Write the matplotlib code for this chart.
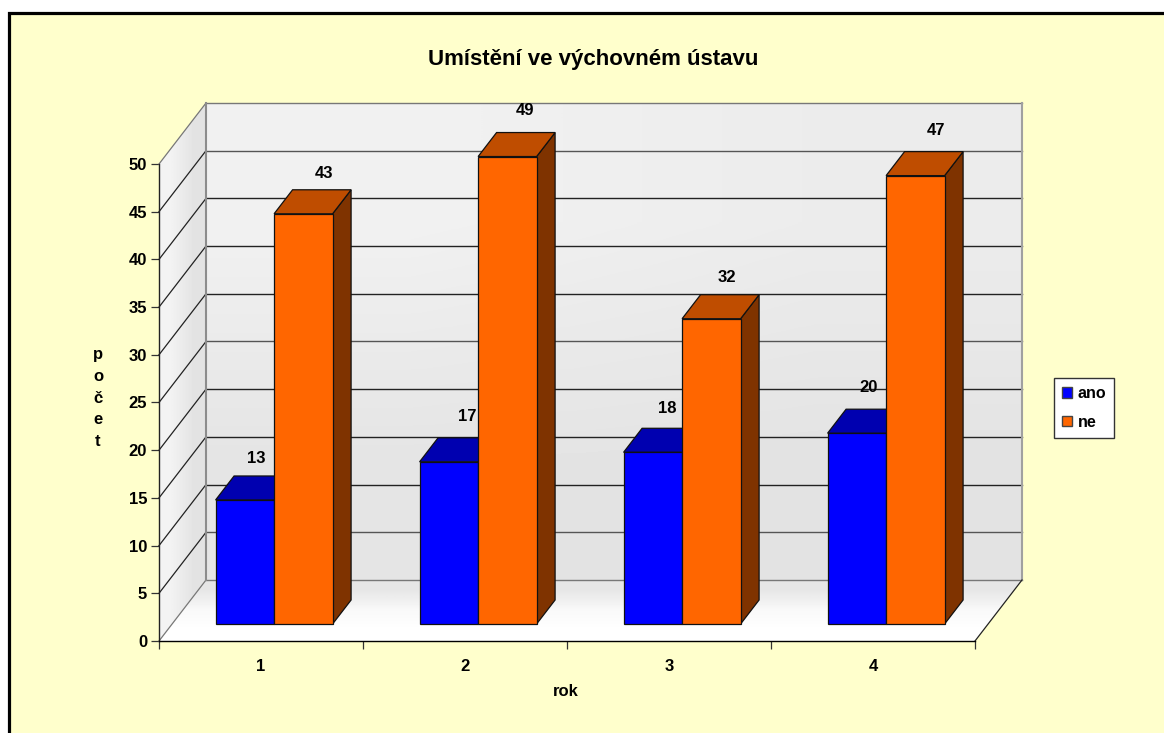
import numpy as np
import matplotlib
matplotlib.use("Agg")
import matplotlib.pyplot as plt
from matplotlib.patches import Patch, Polygon, Rectangle

# data
years = ["1", "2", "3", "4"]
ano = [13, 17, 18, 20]
ne = [43, 49, 32, 47]
y_ticks = list(range(0, 55, 5))

# fake 3d: one unit of depth in data units of the axes
W, H = 1164, 733
px_x = 204.0
px_y = 9.54
depth_x = 47 / px_x
depth_y = 61 / px_y
bar_w = 58.5 / px_x
d_front = 17 / 61
d_back = 41 / 61

plt.rcParams["font.family"] = ["Liberation Sans", "DejaVu Sans"]
plt.rcParams["font.weight"] = "bold"

fig = plt.figure(figsize=(W / 100, H / 100), dpi=100, facecolor="white")

# cream background with the border only showing left and top
fig.patches.append(
    Rectangle(
        (8.5 / W, -0.05),
        1.1,
        1.05 - 13.5 / H,
        transform=fig.transFigure,
        facecolor="#FFFFCC",
        edgecolor="black",
        linewidth=2.3,
        clip_on=False,
        zorder=-5,
    )
)

ax = fig.add_axes([159 / W, 1 - 641 / H, 816 / W, 477 / H])
ax.patch.set_visible(False)


def proj(x, v, d):
    return (x + d * depth_x, v + d * depth_y)


def gradient_poly(points, values, extent, z):
    im = ax.imshow(
        values,
        extent=extent,
        cmap="gray",
        vmin=0,
        vmax=1,
        aspect="auto",
        origin="lower",
        interpolation="bilinear",
        zorder=z,
    )
    # walls stick out of the axes box, so clip to the polygon only
    im.set_clip_box(fig.bbox)
    im.set_clip_path(Polygon(points, closed=True, transform=ax.transData))


# back wall
x0, x1 = 0.5, 4.5
gradient_poly(
    [proj(x0, 0, 1), proj(x1, 0, 1), proj(x1, 50, 1), proj(x0, 50, 1)],
    np.array([[0.895, 0.89], [0.945, 0.925]]),
    (x0 + depth_x, x1 + depth_x, depth_y, 50 + depth_y),
    1,
)
# side wall
gradient_poly(
    [proj(x0, 0, 0), proj(x0, 0, 1), proj(x0, 50, 1), proj(x0, 50, 0)],
    np.array([[0.95, 0.89], [0.95, 0.89]]),
    (x0, x0 + depth_x, 0, 50 + depth_y),
    1,
)
# floor
gradient_poly(
    [proj(x0, 0, 0), proj(x1, 0, 0), proj(x1, 0, 1), proj(x0 + 0.0, 0, 1), ],
    np.array([[1.0, 1.0], [0.975, 0.975], [0.90, 0.90]]),
    (x0, x1 + depth_x, 0, depth_y),
    1,
)
ax.set_xlim(0.5, 4.5)
ax.set_ylim(0, 50)

# grid on the walls
for v in y_ticks:
    back_col = "#777777" if v in (0, 50) else "#222222"
    if v in (5, 45, 25):
        back_col = "#555555"
    side_col = "#777777" if v in (0, 50) else "#222222"
    xs, ys = zip(proj(x0, v, 0), proj(x0, v, 1))
    ax.plot(xs, ys, color=side_col, lw=0.9, zorder=2, clip_on=False)
    xs, ys = zip(proj(x0, v, 1), proj(x1, v, 1))
    ax.plot(xs, ys, color=back_col, lw=1.0, zorder=2, clip_on=False)
xs, ys = zip(proj(x0, 0, 1), proj(x0, 50, 1))
ax.plot(xs, ys, color="#8c8c8c", lw=1.5, zorder=2, clip_on=False)
xs, ys = zip(proj(x1, 0, 1), proj(x1, 50, 1))
ax.plot(xs, ys, color="#a0a0a0", lw=1.5, zorder=2, clip_on=False)
xs, ys = zip(proj(x1, 0, 0), proj(x1, 0, 1))
ax.plot(xs, ys, color="#222222", lw=0.9, zorder=2, clip_on=False)


def bar_3d(left, val, front, top, side, z):
    right = left + bar_w
    faces = [
        ([proj(right, 0, d_front), proj(right, 0, d_back), proj(right, val, d_back), proj(right, val, d_front)], side),
        ([proj(left, val, d_front), proj(right, val, d_front), proj(right, val, d_back), proj(left, val, d_back)], top),
        ([proj(left, 0, d_front), proj(right, 0, d_front), proj(right, val, d_front), proj(left, val, d_front)], front),
    ]
    for pts, col in faces:
        ax.add_patch(Polygon(pts, closed=True, facecolor=col, edgecolor="#111111", linewidth=0.9, zorder=z, clip_on=False))


# small nudges so the value labels sit where they do in the original
ano_nudge = [(11, 41), (18, 45), (14, 44), (12, 46)]
ne_nudge = [(21, 40), (18, 46), (16, 41), (21, 45)]

for i in range(len(years)):
    c = i + 1
    bar_3d(c - bar_w, ano[i], "#0000FF", "#0000B0", "#00007F", 3 + i)
    bar_3d(c, ne[i], "#FF6600", "#BF4D00", "#7F3300", 3 + i)

    fx, fy = proj(c - bar_w / 2, ano[i], d_front)
    ax.annotate(str(ano[i]), (fx, fy), xytext=ano_nudge[i], textcoords="offset pixels",
                ha="center", va="center", fontsize=12, fontweight="bold", zorder=10, annotation_clip=False)
    fx, fy = proj(c + bar_w / 2, ne[i], d_front)
    ax.annotate(str(ne[i]), (fx, fy), xytext=ne_nudge[i], textcoords="offset pixels",
                ha="center", va="center", fontsize=12, fontweight="bold", zorder=10, annotation_clip=False)

# axes
for s in ("top", "right"):
    ax.spines[s].set_visible(False)
ax.spines["left"].set_color("#222222")
ax.spines["bottom"].set_color("black")
ax.spines["left"].set_linewidth(1.0)
ax.spines["bottom"].set_linewidth(1.0)
ax.spines["left"].set_zorder(9)
ax.spines["bottom"].set_zorder(9)

ax.set_yticks(y_ticks)
ax.set_yticklabels([str(v) for v in y_ticks])
ax.tick_params(axis="y", length=5.5, width=0.9, color="#333333", pad=3, labelsize=12)
ax.set_xticks(np.arange(0.5, 5.0, 1.0))
ax.set_xticklabels([])
ax.set_xticks(np.arange(1, 5), minor=True)
ax.set_xticklabels(years, minor=True)
ax.tick_params(axis="x", which="major", length=6, width=0.9, color="#333333")
ax.tick_params(axis="x", which="minor", length=0, pad=13, labelsize=12)

fig.text(593 / W, 1 - 59.5 / H, "Umístění ve výchovném ústavu", ha="center", va="center", fontsize=16, fontweight="bold")
fig.text(566 / W, 1 - 691 / H, "rok", ha="center", va="center", fontsize=12, fontweight="bold")
fig.text(98 / W, 1 - 398 / H, "p\no\nč\ne\nt", ha="center", va="center", fontsize=12, fontweight="bold", linespacing=1.58)

handles = [
    Patch(facecolor="#0000FF", edgecolor="#444444", label="ano"),
    Patch(facecolor="#FF6600", edgecolor="#444444", label="ne"),
]
leg = fig.legend(
    handles=handles,
    loc="upper left",
    bbox_to_anchor=(1054 / W, 1 - 378 / H),
    bbox_transform=fig.transFigure,
    frameon=True,
    fancybox=False,
    framealpha=1,
    facecolor="white",
    edgecolor="#333333",
    fontsize=11.5,
    handlelength=0.62,
    handleheight=0.62,
    handletextpad=0.35,
    labelspacing=0.85,
    borderpad=0.5,
    borderaxespad=0,
    alignment="left",
)
leg.get_frame().set_linewidth(1.0)

fig.savefig("out.png", dpi=100)
